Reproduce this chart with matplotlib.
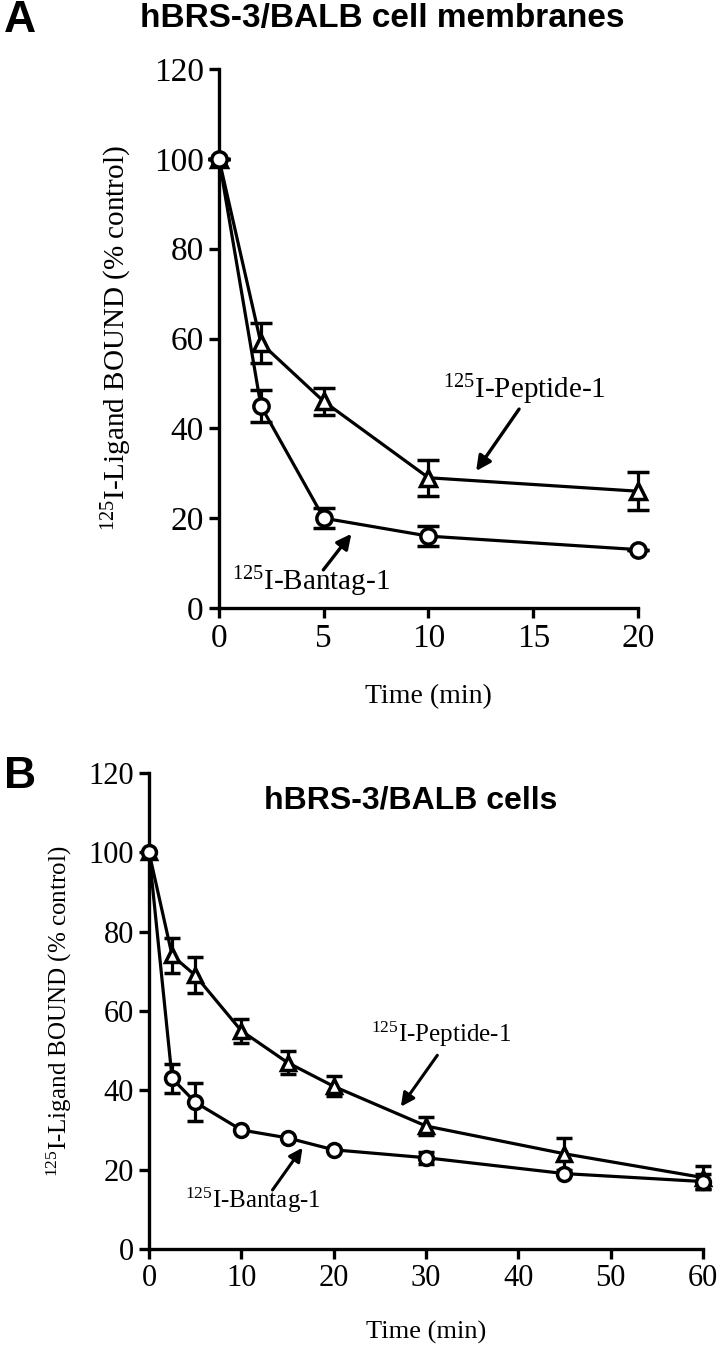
import matplotlib
matplotlib.use("Agg")
import matplotlib.pyplot as plt

# Panel A data: hBRS-3/BALB cell membranes
time_a = [0, 2, 5, 10, 20]
peptide_a = [100, 59, 46, 29, 26]
peptide_a_err = [0, 4.5, 3, 4, 4.2]
bantag_a = [100, 45, 20, 16, 13]
bantag_a_err = [0, 3.5, 2.2, 2.2, 0]

# Panel B data: hBRS-3/BALB cells
time_b = [0, 2.5, 5, 10, 15, 20, 30, 45, 60]
peptide_b = [100, 74, 69, 55, 47, 41, 31, 24, 18]
peptide_b_err = [0, 4.3, 4.5, 3, 3, 2.5, 2.3, 4, 3]
bantag_b = [100, 43, 37, 30, 28, 25, 23, 19, 17]
bantag_b_err = [0, 3.6, 4.8, 0, 0, 0, 1.5, 0, 2]

ticks_a_x = [0, 5, 10, 15, 20]
ticks_b_x = [0, 10, 20, 30, 40, 50, 60]
ticks_y = [0, 20, 40, 60, 80, 100, 120]

plt.rcParams["font.family"] = ["Liberation Serif", "DejaVu Serif"]
plt.rcParams["mathtext.fontset"] = "custom"
plt.rcParams["mathtext.rm"] = "Liberation Serif"
plt.rcParams["mathtext.it"] = "Liberation Serif:italic"
plt.rcParams["mathtext.bf"] = "Liberation Serif:bold"

ylabel_text = r"$^{125}$I-Ligand BOUND (% control)"
peptide_label = r"$^{125}$I-Peptide-1"
bantag_label = r"$^{125}$I-Bantag-1"

fig = plt.figure(figsize=(7.21, 13.46), dpi=100)


def style_axes(ax, xticks, xmax, tick_size):
    for side in ["top", "right"]:
        ax.spines[side].set_visible(False)
    for side in ["left", "bottom"]:
        ax.spines[side].set_linewidth(2.4)
    ax.set_xlim(0, xmax)
    ax.set_ylim(0, 120)
    ax.set_xticks(xticks)
    ax.set_yticks(ticks_y)
    ax.tick_params(width=2.4, length=7, labelsize=tick_size, pad=4)


def draw_series(ax, x, y, err, marker, ms, cap):
    ax.errorbar(x, y, yerr=err, color="black", lw=2.3, marker=marker,
                ms=ms, mfc="white", mec="black", mew=2.5,
                ecolor="black", elinewidth=2.3, capsize=cap, capthick=2.3,
                clip_on=False, zorder=3)


# ---- Panel A ----
ax1 = fig.add_axes([0.3037, 0.5483, 0.5812, 0.4004])
style_axes(ax1, ticks_a_x, 20, 24)
draw_series(ax1, time_a, peptide_a, peptide_a_err, "^", 12, 8)
draw_series(ax1, time_a, bantag_a, bantag_a_err, "o", 11, 8)
ax1.set_xlabel("Time (min)", fontsize=20, labelpad=22)
ax1.set_ylabel(ylabel_text, fontsize=21, labelpad=14)

ax1.annotate("", xy=(12.2, 30), xytext=(14.4, 44.8),
             arrowprops=dict(arrowstyle="-|>", color="black", lw=2.4,
                             mutation_scale=22))
ax1.text(14.6, 48.5, peptide_label, fontsize=21, ha="center", va="center")
ax1.annotate("", xy=(6.4, 17), xytext=(4.9, 8),
             arrowprops=dict(arrowstyle="-|>", color="black", lw=2.4,
                             mutation_scale=22))
ax1.text(4.4, 5.8, bantag_label, fontsize=21, ha="center", va="center")

# ---- Panel B ----
ax2 = fig.add_axes([0.2067, 0.0721, 0.7683, 0.3536])
style_axes(ax2, ticks_b_x, 60, 22)
draw_series(ax2, time_b, peptide_b, peptide_b_err, "^", 10, 6)
draw_series(ax2, time_b, bantag_b, bantag_b_err, "o", 10, 6)
ax2.set_xlabel("Time (min)", fontsize=19, labelpad=20)
ax2.set_ylabel(ylabel_text, fontsize=18, labelpad=10)

ax2.annotate("", xy=(27.1, 35.3), xytext=(31.4, 49.4),
             arrowprops=dict(arrowstyle="-|>", color="black", lw=2.2,
                             mutation_scale=20))
ax2.text(31.6, 54, peptide_label, fontsize=18, ha="center", va="center")
ax2.annotate("", xy=(16.8, 26.1), xytext=(13.2, 14.3),
             arrowprops=dict(arrowstyle="-|>", color="black", lw=2.2,
                             mutation_scale=20))
ax2.text(11.3, 12.2, bantag_label, fontsize=18, ha="center", va="center")

# panel letters and titles
bold_sans = ["Liberation Sans", "DejaVu Sans"]
fig.text(0.006, 0.985, "A", family=bold_sans, weight="bold", fontsize=32,
         va="center", ha="left")
fig.text(0.53, 0.986, "hBRS-3/BALB cell membranes", family=bold_sans,
         weight="bold", fontsize=24, va="center", ha="center")
fig.text(0.006, 0.423, "B", family=bold_sans, weight="bold", fontsize=32,
         va="center", ha="left")
fig.text(0.569, 0.405, "hBRS-3/BALB cells", family=bold_sans,
         weight="bold", fontsize=23, va="center", ha="center")

fig.savefig("out.png", dpi=100)
